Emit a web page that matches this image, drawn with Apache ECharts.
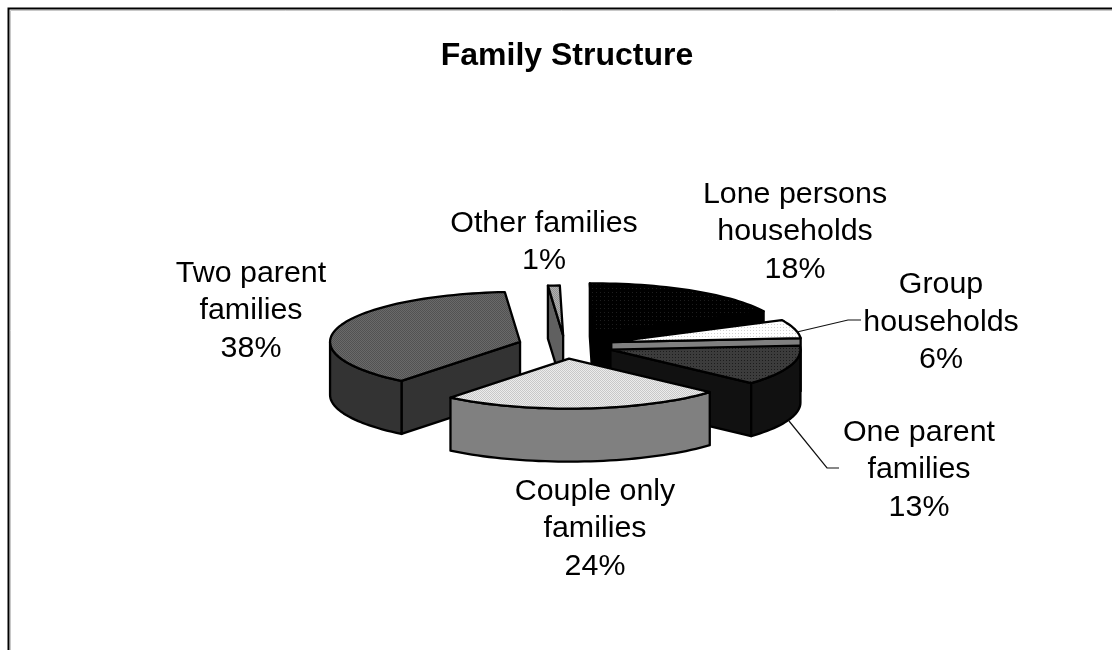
<!DOCTYPE html>
<html>
<head>
<meta charset="utf-8">
<style>html,body{margin:0;padding:0;background:#fff}#chart{width:1112px;height:650px}</style>
<script src="https://cdn.jsdelivr.net/npm/echarts@6/dist/echarts.min.js"></script>
</head>
<body>
<div id="chart"></div>
<script>
// Family structure shares, clockwise from the first-slice angle
const categories = ['Lone persons\nhouseholds', 'Group\nhouseholds', 'One parent\nfamilies', 'Couple only\nfamilies', 'Two parent\nfamilies', 'Other families'];
const shares = [18, 6, 13, 24, 38, 1];
// Radial pull-out of each slice, in pixels along its mid-angle
const explode = [54, 48, 48, 50, 47, 38];
// Back slices are painted first so the front ones overlap them
const paintOrder = [5, 0, 1, 2, 4, 3];

const PIE = { cx: 565, cy: 345.5, rx: 190, ry: 50, depth: 53, firstAngle: -1 };

// Printer-style halftone fills: base colour with a repeating dot
function halftone(base, dot, step) {
  const c = document.createElement('canvas');
  c.width = c.height = step;
  const g = c.getContext('2d');
  g.fillStyle = base;
  g.fillRect(0, 0, step, step);
  g.fillStyle = dot;
  g.fillRect(0, 0, 1, 1);
  if (step === 2) g.fillRect(1, 1, 1, 1);
  return { image: c, repeat: 'repeat' };
}
const topFill = [
  halftone('#000000', '#1e1e1e', 4),
  halftone('#ffffff', '#d0d0d0', 3),
  halftone('#3c3c3c', '#1c1c1c', 3),
  halftone('#ececec', '#c8c8c8', 2),
  halftone('#6a6a6a', '#525252', 2),
  halftone('#b0b0b0', '#909090', 2)
];
const sideFill = ['#000000', '#808080', '#111111', '#808080', '#333333', '#606060'];

const total = shares.reduce((a, b) => a + b, 0);
const startAngles = [];
shares.reduce((acc, v, i) => { startAngles[i] = acc; return acc + v / total * 360; }, PIE.firstAngle);

function rim(cx, cy, deg) {
  const t = deg * Math.PI / 180;
  return [cx + PIE.rx * Math.sin(t), cy - PIE.ry * Math.cos(t)];
}
function drop(pts) { return pts.map(p => [p[0], p[1] + PIE.depth]); }

function renderSlice(params, api) {
  const i = api.value(0);
  const a0 = api.value(1);
  const a1 = a0 + api.value(2) / total * 360;
  const mid = (a0 + a1) / 2 * Math.PI / 180;
  const off = api.value(3);
  const cx = PIE.cx + off * Math.sin(mid);
  const cy = PIE.cy - off * Math.cos(mid) * PIE.ry / PIE.rx;
  const stroke = { stroke: '#000', lineWidth: 2.3, lineJoin: 'round' };
  const sample = (from, to) => {
    const n = Math.max(2, Math.ceil((to - from) / 2));
    const out = [];
    for (let k = 0; k <= n; k++) out.push(rim(cx, cy, from + (to - from) * k / n));
    return out;
  };
  const children = [];
  const poly = (points, fill) => children.push({ type: 'polygon', shape: { points }, style: Object.assign({ fill }, stroke) });
  const apex = [cx, cy];
  const face = (deg) => { const p = rim(cx, cy, deg); return [apex, p, [p[0], p[1] + PIE.depth], [cx, cy + PIE.depth]]; };
  if (Math.sin(a0 * Math.PI / 180) < -1e-6) poly(face(a0), sideFill[i]);
  if (Math.sin(a1 * Math.PI / 180) > 1e-6) poly(face(a1), sideFill[i]);
  const f0 = Math.max(a0, 90), f1 = Math.min(a1, 270);
  if (f1 > f0) {
    const front = sample(f0, f1);
    poly(front.concat(drop(front).reverse()), sideFill[i]);
  }
  poly([apex].concat(sample(a0, a1)), topFill[i]);
  return { type: 'group', children };
}

// Label block centres in pixels, with the leader elbows beside them
const labelCentres = [[795, 232], [941, 322.5], [919, 470], [595, 529], [251, 311], [544, 242]];
const leaders = [null, [[797, 332], [848, 320], [861, 320]], [[789, 421], [827, 468], [839, 468]], null, null, null];

function renderLabel(params, api) {
  const i = api.value(0);
  const children = [];
  if (leaders[i]) {
    children.push({ type: 'polyline', shape: { points: leaders[i] }, style: { fill: null, stroke: '#111', lineWidth: 1.2 } });
  }
  children.push({
    type: 'text',
    x: labelCentres[i][0], y: labelCentres[i][1],
    style: {
      text: categories[i] + '\n' + api.value(1) + '%',
      align: 'center', verticalAlign: 'middle',
      font: '30.4px "Liberation Sans"', lineHeight: 37.5, fill: '#000'
    }
  });
  return { type: 'group', children };
}

const chart = echarts.init(document.getElementById('chart'), null, { renderer: 'canvas' });
chart.setOption({
  animation: false,
  backgroundColor: '#ffffff',
  title: {
    text: 'Family Structure',
    left: 562, top: 35, textAlign: 'center',
    textStyle: { fontFamily: 'Liberation Sans', fontSize: 32, fontWeight: 'bold', color: '#000' }
  },
  graphic: [
    { type: 'polyline', shape: { points: [[8.5, 650], [8.5, 8.5], [1112, 8.5]] }, style: { fill: null, stroke: '#000', lineWidth: 2 } },
    { type: 'polyline', shape: { points: [[10.5, 650], [10.5, 10.5], [1112, 10.5]] }, style: { fill: null, stroke: '#c8c8c8', lineWidth: 1 } }
  ],
  series: [
    {
      type: 'custom', coordinateSystem: 'none', renderItem: renderSlice, silent: true,
      data: paintOrder.map(i => [i, startAngles[i], shares[i], explode[i]])
    },
    {
      type: 'custom', coordinateSystem: 'none', renderItem: renderLabel, silent: true, z: 5,
      data: shares.map((v, i) => [i, v])
    }
  ]
});
</script>
</body>
</html>
